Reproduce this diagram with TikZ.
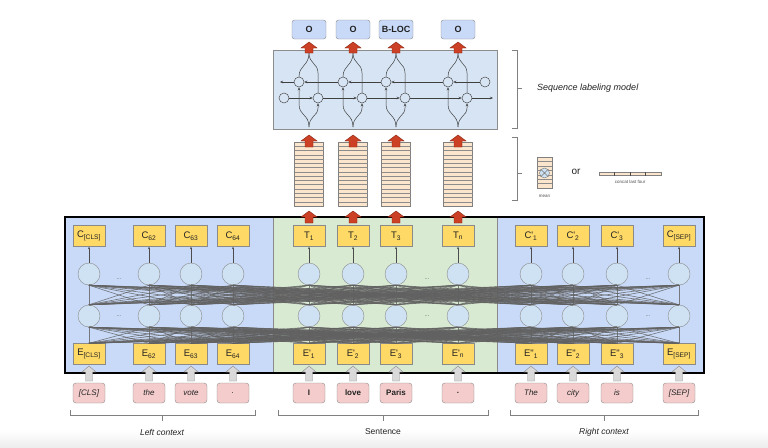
\documentclass[tikz,border=0pt]{standalone}
\usepackage{fontspec}
\setmainfont{Liberation Sans}[Ligatures=TeXOff]
\usetikzlibrary{arrows.meta}
\definecolor{ctxblue}{HTML}{C9DAF8}
\definecolor{sentgreen}{HTML}{D9EAD3}
\definecolor{boxyellow}{HTML}{FFD966}
\definecolor{cellblue}{HTML}{CFE2F3}
\definecolor{tokpink}{HTML}{F4CCCC}
\definecolor{stackpeach}{HTML}{FCE5CD}
\definecolor{seqblue}{HTML}{D6E4F4}
\definecolor{arrred}{HTML}{CC4125}
\definecolor{arrredline}{HTML}{85200C}
\definecolor{edgegray}{HTML}{8A8A8A}
\definecolor{txtdark}{HTML}{222222}
\newcommand\blockarrow[6]{% style, cx, ytop, ybot, shaft half width, head half width
  \draw[#1] (#2-#5,#4) -- (#2+#5,#4) -- (#2+#5,#3+6) -- (#2+#6,#3+6) -- (#2,#3)
    -- (#2-#6,#3+6) -- (#2-#5,#3+6) -- cycle;}
\tikzset{
  ybox/.style={draw=edgegray, fill=boxyellow, minimum width=32pt, minimum height=21pt,
    inner sep=0pt, text=txtdark, font=\fontsize{9.5}{10}\selectfont},
  cell/.style={circle, draw=edgegray, fill=cellblue, minimum size=22pt, inner sep=0pt},
  tokbase/.style={draw=black!45, fill=tokpink, rounded corners=3pt, minimum width=32pt,
    minimum height=20pt, inner sep=0pt, text=txtdark},
  itok/.style={tokbase, font=\fontsize{8}{9}\selectfont\itshape},
  btok/.style={tokbase, font=\fontsize{8}{9}\selectfont\bfseries},
  mesh/.style={draw=black!62, opacity=0.8, line width=0.65pt},
  thinarr/.style={draw=black!70, line width=0.4pt, -{Stealth[length=2.5pt,width=2pt]}},
  redarr/.style={fill=arrred, draw=arrredline, line width=0.4pt},
  grayarr/.style={fill=black!15, draw=black!45, line width=0.4pt},
  brk/.style={draw=black!50, line width=0.5pt},
  dotsty/.style={font=\fontsize{6}{6}\selectfont, text=black!60, inner sep=0pt},
  ctxlab/.style={font=\fontsize{8.5}{9}\selectfont, text=txtdark},
  outlab/.style={draw=edgegray, fill=ctxblue, rounded corners=2.5pt, minimum width=34pt,
    minimum height=19pt, inner sep=0pt, font=\fontsize{9}{10}\selectfont\bfseries, text=txtdark},
  scell/.style={circle, draw=black!70, fill=seqblue, minimum size=10pt, inner sep=0pt, line width=0.5pt},
  sline/.style={draw=black!75, line width=0.5pt},
  sarr/.style={sline, -{Stealth[length=3pt,width=2.5pt]}},
  stackbox/.style={fill=stackpeach, draw=black!50, line width=0.4pt},
  stripe/.style={draw=black!45, line width=0.35pt}
}
\begin{document}
\begin{tikzpicture}[x=1pt,y=-1pt]
\useasboundingbox (0,0) rectangle (768,447);
\shade[top color=white, bottom color=black!7] (0,430) rectangle (768,447);

% ---------- big encoder box ----------
\fill[ctxblue] (65,217) rectangle (273,373);
\fill[sentgreen] (273,217) rectangle (497,373);
\fill[ctxblue] (497,217) rectangle (704,373);
\draw[edgegray, line width=0.5pt] (273,217) -- (273,373) (497,217) -- (497,373);

\foreach \x [count=\i] in {89,149,191,233,309,353,396,458,531,573,617,679} {
  \node[cell] (a\i) at (\x,274) {};
  \node[cell] (b\i) at (\x,316) {};
}
\foreach \x/\lab [count=\i] in {89/{C\textsubscript{[CLS]}},149/{C\textsubscript{62}},191/{C\textsubscript{63}},233/{C\textsubscript{64}},
  309/{T\textsubscript{1}},353/{T\textsubscript{2}},396/{T\textsubscript{3}},458/{T\textsubscript{n}},
  531/{C'\textsubscript{1}},573/{C'\textsubscript{2}},617/{C'\textsubscript{3}},679/{C\textsubscript{[SEP]}}}
  \node[ybox] (c\i) at (\x,236) {\lab};
\foreach \x/\lab [count=\i] in {89/{E\textsubscript{[CLS]}},149/{E\textsubscript{62}},191/{E\textsubscript{63}},233/{E\textsubscript{64}},
  309/{E'\textsubscript{1}},353/{E'\textsubscript{2}},396/{E'\textsubscript{3}},458/{E'\textsubscript{n}},
  531/{E"\textsubscript{1}},573/{E"\textsubscript{2}},617/{E"\textsubscript{3}},679/{E\textsubscript{[SEP]}}}
  \node[ybox] (e\i) at (\x,354) {\lab};

\foreach \i in {1,...,12} {
  \foreach \j in {1,...,12} {
    \draw[mesh] (e\j.north) -- (b\i.south);
    \draw[mesh] (b\j.north) -- (a\i.south);
  }
  \draw[thinarr] (a\i.north) -- (c\i.south);
}

\node[dotsty] (dl1) at (119,279) {...};
\node[dotsty] (dl2) at (119,316) {...};
\node[dotsty] (dm1) at (427,279) {...};
\node[dotsty] (dm2) at (427,316) {...};
\node[dotsty] (dr1) at (648,279) {...};
\node[dotsty] (dr2) at (648,316) {...};

\draw[black, line width=1.5pt] (65,217) rectangle (704,373);

% ---------- tokens ----------
\foreach \x/\t/\s [count=\i] in {89/[CLS]/itok,149/the/itok,191/vote/itok,233/./itok,
  309/I/btok,353/love/btok,396/Paris/btok,458/./btok,
  531/The/itok,573/city/itok,617/is/itok,679/[SEP]/itok} {
  \node[\s] (tok\i) at (\x,393) {\t};
  \blockarrow{grayarr}{\x}{366}{381}{3.5}{7}
}

% ---------- context brackets ----------
\draw[brk] (70,410) -- (70,415) -- (255,415) -- (255,410) (162,415) -- (162,421);
\draw[brk] (278,410) -- (278,415) -- (488,415) -- (488,410) (383,415) -- (383,421);
\draw[brk] (510,410) -- (510,415) -- (698,415) -- (698,410) (604,415) -- (604,421);
\node[ctxlab, font=\fontsize{8.5}{9}\selectfont\itshape] (lctx) at (162,432) {Left context};
\node[ctxlab] (sctx) at (383,432) {Sentence};
\node[ctxlab, font=\fontsize{8.5}{9}\selectfont\itshape] (rctx) at (604,432) {Right context};

% ---------- stacks ----------
\foreach \x in {309,353,396,458} {
  \blockarrow{redarr}{\x}{211}{223}{4}{8}
  \draw[stackbox] (\x-14.5,142) rectangle (\x+14.5,206);
  \foreach \s in {1,...,14} \draw[stripe] (\x-14.5,142+\s*64/15) -- ++(29,0);
  \blockarrow{redarr}{\x}{135}{147}{4}{8}
}

% ---------- sequence labeling model ----------
\node[draw=black!45, fill=seqblue, minimum width=224pt, minimum height=79pt, inner sep=0pt, line width=0.5pt]
  (seq) at (385,89.5) {};
\node[scell] (sA5) at (485,82) {};
\node[scell] (sB0) at (284,98) {};
\foreach \x [count=\k] in {309,353,396,458} {
  \node[scell] (sA\k) at (\x-10,82) {};
  \node[scell] (sB\k) at (\x+9,98) {};
  \coordinate (sbot\k) at (\x,127);
  \coordinate (stop\k) at (\x,53);
}
\coordinate (sAend) at (280,82);
\coordinate (sBend) at (493,98);
\draw[sarr] (sA5.west) -- (sA4.east);
\draw[sarr] (sA4.west) -- (sA3.east);
\draw[sarr] (sA3.west) -- (sA2.east);
\draw[sarr] (sA2.west) -- (sA1.east);
\draw[sarr] (sA1.west) -- (sAend);
\draw[sarr] (sB0.east) -- (sB1.west);
\draw[sarr] (sB1.east) -- (sB2.west);
\draw[sarr] (sB2.east) -- (sB3.west);
\draw[sarr] (sB3.east) -- (sB4.west);
\draw[sarr] (sB4.east) -- (sBend);
\foreach \x [count=\k] in {309,353,396,458} {
  \draw[sarr] (sbot\k) .. controls (\x,114) and (\x-10,116) .. (\x-10,104) -- (sA\k.south);
  \draw[sarr] (sbot\k) .. controls (\x,116) and (\x+9,116) .. (\x+9,108) -- (sB\k.south);
  \draw[sline] (sA\k.north) .. controls (\x-10,65) and (\x,66) .. (stop\k);
  \draw[sline] (sB\k.north) -- (\x+9,73) .. controls (\x+9,63) and (\x,64) .. (stop\k);
  \blockarrow{redarr}{\x}{42}{53}{4}{8}
}
\foreach \x/\t [count=\k] in {309/O,353/O,396/B-LOC,458/O}
  \node[outlab] (out\k) at (\x,29.5) {\t};

% ---------- right-side annotations ----------
\draw[brk] (512,50) -- (517,50) -- (517,128) -- (512,128) (517,88) -- (522,88);
\node[anchor=west, font=\fontsize{9}{10}\selectfont\itshape, text=txtdark, inner sep=0pt] (seqlab) at (537,88) {Sequence labeling model};
\draw[brk] (512,137) -- (517,137) -- (517,200) -- (512,200) (517,173) -- (522,173);

\draw[stackbox] (537,157) rectangle (552,188);
\foreach \s in {1,...,6} \draw[stripe] (537,157+\s*31/7) -- ++(15,0);
\node[circle, draw=black!55, fill=cellblue, minimum size=10pt, inner sep=0pt, line width=0.4pt] (meanc) at (544.5,173) {};
\draw[black!55, line width=0.4pt] (meanc.north west) -- (meanc.south east) (meanc.north east) -- (meanc.south west);
\node[font=\fontsize{4.5}{5}\selectfont, text=black!70, inner sep=0pt] (meanlab) at (544.5,196) {mean};
\node[font=\fontsize{10}{11}\selectfont, text=txtdark, inner sep=0pt] (orlab) at (576,172) {or};
\draw[stackbox] (599,172) rectangle (661,175.5);
\foreach \s in {1,2,3} \draw[black!70, line width=0.6pt] (599+\s*15.5,172) -- ++(0,3.5);
\node[font=\fontsize{4.5}{5}\selectfont, text=black!70, inner sep=0pt] (catlab) at (630,182) {concat last four};
\end{tikzpicture}
\end{document}
